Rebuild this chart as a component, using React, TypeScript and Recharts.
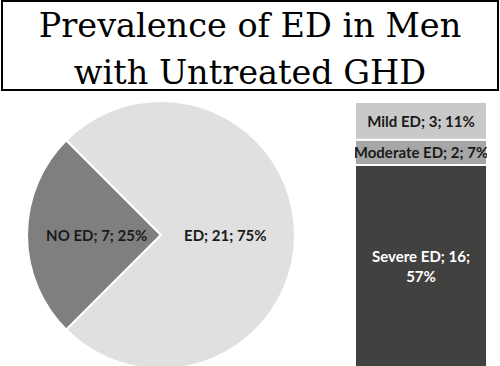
import React from 'react';
import { PieChart, Pie, Cell, BarChart, Bar, XAxis, YAxis, LabelList } from 'recharts';

const titleLines = ['Prevalence of ED in Men', 'with Untreated GHD'];

const pieNames = ['NO ED', 'ED'];
const pieCounts = [7, 21];
const piePercents = ['25%', '75%'];
const pieColors = ['#7f7f7f', '#e0e0e0'];

const barCategories = ['ED'];
const severityKeys = ['severe', 'moderate', 'mild'];
const severityNames = ['Severe ED', 'Moderate ED', 'Mild ED'];
const severityCounts = [16, 2, 3];
const severityPercents = ['57%', '7%', '11%'];
const severityWrap = [true, false, false];
const severityColors = ['#41413f', '#a6a6a6', '#c9c9c9'];
const severityTextColors = ['#ffffff', '#1a1a1a', '#1a1a1a'];

const pieData = pieNames.map((name, i) => ({ name, value: pieCounts[i], pct: piePercents[i] }));

const barData = barCategories.map((cat) => {
  const row: Record<string, any> = { cat };
  severityKeys.forEach((k, i) => {
    row[k] = severityCounts[i];
  });
  return row;
});

const LABEL_FONT = 'Lato, "Open Sans", sans-serif';

const renderPieLabel = (props: any) => {
  const { cx, cy, midAngle, outerRadius, index } = props;
  const RAD = Math.PI / 180;
  const r = outerRadius * 0.48;
  const x = cx + r * Math.cos(-midAngle * RAD);
  const y = cy + r * Math.sin(-midAngle * RAD);
  const d = pieData[index];
  return (
    <text
      x={x}
      y={y}
      textAnchor="middle"
      dominantBaseline="central"
      fill="#1a1a1a"
      fontFamily={LABEL_FONT}
      fontWeight={700}
      fontSize={15}
    >
      {`${d.name}; ${d.value}; ${d.pct}`}
    </text>
  );
};

const makeBarLabel = (i: number) => (props: any) => {
  const { x, y, width, height } = props;
  const cxp = Number(x) + Number(width) / 2;
  const cyp = Number(y) + Number(height) / 2;
  const lines = severityWrap[i]
    ? [`${severityNames[i]}; ${severityCounts[i]};`, severityPercents[i]]
    : [`${severityNames[i]}; ${severityCounts[i]}; ${severityPercents[i]}`];
  const lh = 20;
  const startY = cyp - ((lines.length - 1) * lh) / 2;
  return (
    <text
      textAnchor="middle"
      fill={severityTextColors[i]}
      fontFamily={LABEL_FONT}
      fontWeight={700}
      fontSize={15}
    >
      {lines.map((ln, j) => (
        <tspan key={j} x={cxp} y={startY + j * lh} dominantBaseline="central">
          {ln}
        </tspan>
      ))}
    </text>
  );
};

export default function App() {
  return (
    <div
      style={{
        position: 'absolute',
        top: 0,
        left: 0,
        width: 500,
        height: 366,
        overflow: 'hidden',
        background: '#ffffff',
      }}
    >
      <svg width={500} height={95} style={{ position: 'absolute', top: 0, left: 0 }}>
        <rect x={2} y={1} width={496} height={89} fill="#ffffff" stroke="#000000" strokeWidth={2} />
        <text x={250} y={37} textAnchor="middle" fontFamily='"DejaVu Serif", serif' fontSize={33.5} fill="#000">
          {titleLines[0]}
        </text>
        <text x={250} y={84} textAnchor="middle" fontFamily='"DejaVu Serif", serif' fontSize={33.5} fill="#000">
          {titleLines[1]}
        </text>
      </svg>

      <div style={{ position: 'absolute', top: 0, left: 0 }}>
        <PieChart width={330} height={366} margin={{ top: 0, right: 0, bottom: 0, left: 0 }}>
          <Pie
            data={pieData}
            dataKey="value"
            nameKey="name"
            cx={161}
            cy={235}
            outerRadius={134}
            startAngle={135}
            endAngle={495}
            stroke="#ffffff"
            strokeWidth={2}
            label={renderPieLabel}
            labelLine={false}
            isAnimationActive={false}
          >
            {pieData.map((_, i) => (
              <Cell key={i} fill={pieColors[i]} />
            ))}
          </Pie>
        </PieChart>
      </div>

      <div style={{ position: 'absolute', top: 102, left: 355 }}>
        <BarChart
          width={132}
          height={265}
          data={barData}
          margin={{ top: 0, right: 0, bottom: 0, left: 0 }}
          barCategoryGap={0}
        >
          <XAxis dataKey="cat" hide />
          <YAxis hide domain={[0, 21]} />
          {severityKeys.map((k, i) => (
            <Bar
              key={k}
              dataKey={k}
              stackId="a"
              fill={severityColors[i]}
              stroke="#ffffff"
              strokeWidth={2}
              isAnimationActive={false}
            >
              <LabelList dataKey={k} content={makeBarLabel(i)} />
            </Bar>
          ))}
        </BarChart>
      </div>
    </div>
  );
}
